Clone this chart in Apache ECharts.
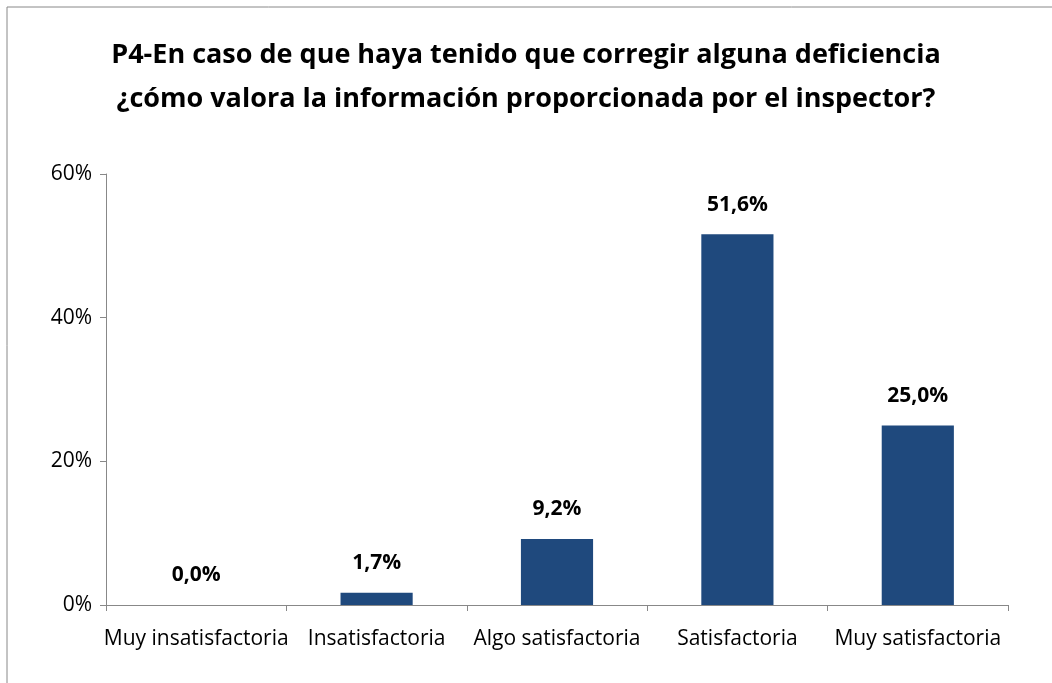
<!DOCTYPE html>
<html>
<head>
<meta charset="utf-8">
<script src="https://cdn.jsdelivr.net/npm/echarts@6/dist/echarts.min.js"></script>
<style>
  html, body { margin: 0; padding: 0; background: #fff; }
  #chart { width: 1052px; height: 683px; }
</style>
</head>
<body>
<div id="chart"></div>
<script>
const categories = ['Muy insatisfactoria', 'Insatisfactoria', 'Algo satisfactoria', 'Satisfactoria', 'Muy satisfactoria'];
const values = [0.0, 1.7, 9.2, 51.6, 25.0];
const titleText = 'P4-En caso de que haya tenido que corregir alguna deficiencia\n¿cómo valora la información proporcionada por el inspector?';

const chart = echarts.init(document.getElementById('chart'));
const fontFamily = '"Open Sans", sans-serif';

chart.setOption({
  animation: false,
  title: {
    text: titleText,
    left: 'center',
    top: 28,
    textStyle: {
      fontFamily,
      fontSize: 27,
      fontWeight: 'bold',
      color: '#000',
      lineHeight: 44
    }
  },
  graphic: [{
    type: 'polyline',
    shape: { points: [[7, 690], [7, 7], [1060, 7]] },
    style: { stroke: '#888', lineWidth: 1, fill: null }
  }],
  grid: {
    left: 106,
    right: 44,
    top: 174,
    bottom: 78
  },
  xAxis: {
    type: 'category',
    data: categories,
    axisLine: { lineStyle: { color: '#888' } },
    axisTick: { show: true, length: 6, alignWithLabel: false, lineStyle: { color: '#888' } },
    axisLabel: { fontFamily, fontSize: 21, color: '#000', margin: 24, interval: 0 }
  },
  yAxis: {
    type: 'value',
    min: 0,
    max: 60,
    interval: 20,
    axisLine: { show: true, lineStyle: { color: '#888' } },
    axisTick: { show: true, length: 6, lineStyle: { color: '#888' } },
    splitLine: { show: false },
    axisLabel: {
      fontFamily,
      fontSize: 21,
      color: '#000',
      margin: 14,
      formatter: v => v + '%'
    }
  },
  series: [{
    type: 'bar',
    data: values,
    barWidth: '40%',
    itemStyle: { color: '#1f497d' },
    label: {
      show: true,
      position: 'top',
      distance: 19,
      fontFamily,
      fontSize: 21,
      fontWeight: 'bold',
      color: '#000',
      formatter: p => p.value.toFixed(1).replace('.', ',') + '%'
    }
  }]
});
</script>
</body>
</html>
